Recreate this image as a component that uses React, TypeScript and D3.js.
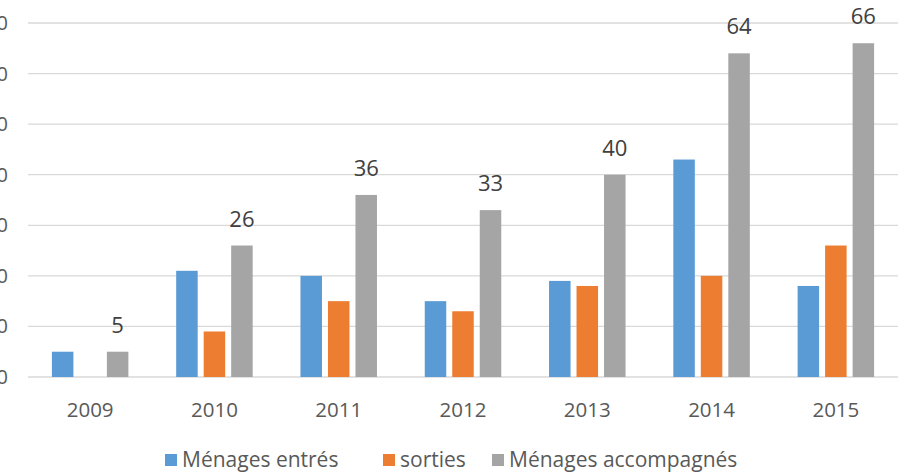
import * as d3 from 'd3';
import * as React from 'react';

/**
 * Chart data.
 */
const years: string[] = ['2009', '2010', '2011', '2012', '2013', '2014', '2015'];
const seriesNames: string[] = ['Ménages entrés', 'sorties', 'Ménages accompagnés'];
const entres: number[] = [5, 21, 20, 15, 19, 43, 18];
const sorties: number[] = [0, 9, 15, 13, 18, 20, 26];
const accompagnes: number[] = [5, 26, 36, 33, 40, 64, 66];
const yTicks: number[] = [0, 10, 20, 30, 40, 50, 60, 70];
const colors: string[] = ['#5B9BD5', '#ED7D31', '#A5A5A5'];

const width = 916;
const height = 473;
const font = '"Open Sans", "Liberation Sans", sans-serif';

export default function App() {
    const svgRef = React.useRef<SVGSVGElement>(null);

    React.useEffect(() => {
        if (!svgRef.current) return;
        const svg = d3.select(svgRef.current);
        svg.selectAll('*').remove();

        const values = [entres, sorties, accompagnes];

        const x0 = d3.scaleBand<string>()
            .domain(years)
            .range([28, 898]);

        // bars are 21.5px wide, 27.5px apart, centered in each year band
        const groupWidth = 76.5;
        const x1 = d3.scaleBand<string>()
            .domain(seriesNames)
            .range([0, groupWidth])
            .paddingInner(0.218)
            .paddingOuter(0);
        const groupOffset = (x0.bandwidth() - groupWidth) / 2;

        const y = d3.scaleLinear()
            .domain([0, 70])
            .range([377, 23]);

        // gridlines
        svg.append('g')
            .selectAll('line')
            .data(yTicks)
            .join('line')
            .attr('x1', 28)
            .attr('x2', 898)
            .attr('y1', d => y(d))
            .attr('y2', d => y(d))
            .attr('stroke', '#d9d9d9')
            .attr('stroke-width', 1.3);

        // y labels (cut off at the left edge, like the source)
        svg.append('g')
            .selectAll('text')
            .data(yTicks)
            .join('text')
            .attr('x', 8)
            .attr('y', d => y(d))
            .attr('dy', '0.35em')
            .attr('text-anchor', 'end')
            .attr('font-family', font)
            .attr('font-size', 20)
            .attr('fill', '#595959')
            .text(d => d);

        // bars
        seriesNames.forEach((name, si) => {
            svg.append('g')
                .selectAll('rect')
                .data(values[si])
                .join('rect')
                .attr('x', (_, i) => x0(years[i]) + groupOffset + x1(name))
                .attr('y', d => y(d))
                .attr('width', x1.bandwidth())
                .attr('height', d => y(0) - y(d))
                .attr('fill', colors[si]);
        });

        // data labels on the accompagnés series
        svg.append('g')
            .selectAll('text')
            .data(accompagnes)
            .join('text')
            .attr('x', (_, i) => x0(years[i]) + groupOffset + x1(seriesNames[2]) + x1.bandwidth() / 2)
            .attr('y', d => y(d) - 19)
            .attr('text-anchor', 'middle')
            .attr('font-family', font)
            .attr('font-size', 22)
            .attr('fill', '#404040')
            .text(d => d);

        // category labels
        svg.append('g')
            .selectAll('text')
            .data(years)
            .join('text')
            .attr('x', d => x0(d) + x0.bandwidth() / 2)
            .attr('y', 417)
            .attr('text-anchor', 'middle')
            .attr('font-family', font)
            .attr('font-size', 20.5)
            .attr('fill', '#595959')
            .text(d => d);

        // legend
        const legendX = [165, 383, 492];
        const legend = svg.append('g')
            .selectAll('g')
            .data(seriesNames)
            .join('g')
            .attr('transform', (_, i) => `translate(${legendX[i]},454)`);
        legend.append('rect')
            .attr('width', 12)
            .attr('height', 12)
            .attr('fill', (_, i) => colors[i]);
        legend.append('text')
            .attr('x', 17)
            .attr('y', 12.5)
            .attr('font-family', font)
            .attr('font-size', 21)
            .attr('fill', '#595959')
            .text(d => d);
    }, []);

    return (
        <svg
            ref={svgRef}
            width={width}
            height={height}
            style={{ position: 'absolute', left: 0, top: 0, background: '#fff' }}
        />
    );
}
